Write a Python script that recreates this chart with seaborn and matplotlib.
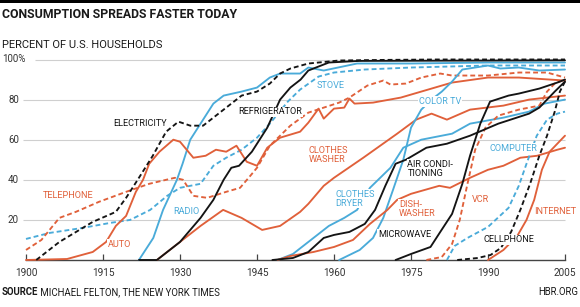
import matplotlib
matplotlib.use("Agg")
import matplotlib.pyplot as plt
from matplotlib.patches import Rectangle
import seaborn as sns

# percent of U.S. households
electricity_years = [1902, 1906.5, 1913, 1917.5, 1919.5, 1922, 1924.7, 1927.3, 1929.7, 1932, 1934.5, 1936.5,
                     1939, 1942, 1945, 1947.5, 1949.5, 1951.5, 1955, 1961, 1970, 1980, 1990, 2005]
electricity = [0, 9, 19, 24, 31, 41, 52, 64, 69, 67, 67, 71, 76, 82, 84, 88, 93, 95.5, 98, 99.5, 99.8, 100, 100, 100]

telephone_years = [1900, 1903, 1906.5, 1909.7, 1914.2, 1919.5, 1924, 1927.3, 1929, 1930.6, 1932.6, 1935.3, 1939,
                   1941.7, 1943.7, 1945, 1947.5, 1951.5, 1955, 1961, 1963, 1966.5, 1969.6, 1971, 1974, 1977,
                   1980.7, 1983, 1990, 1996, 2001.5, 2005]
telephone = [5, 10, 21, 24, 29, 34, 38, 40, 41, 40, 32, 31, 34, 36, 42, 46, 57, 67, 73.5, 78.5, 81, 87, 89.5,
             87.5, 88, 91, 93, 92, 92, 93.5, 93.5, 91]

radio_years = [1922, 1924.8, 1926.7, 1929.4, 1930.5, 1932, 1934.5, 1936.5, 1938.5, 1942, 1945, 1947.5, 1949.5,
               1953.4, 1955, 1958, 1964.5, 1975, 1990, 2005]
radio = [0, 11, 25, 40, 48, 60, 70, 78, 82, 84, 86, 91, 93, 93, 96, 94.5, 98, 98, 98.5, 98.5]

auto_years = [1900, 1908, 1913, 1915.6, 1917.5, 1919.5, 1921.4, 1922.8, 1924, 1926, 1928.7, 1930, 1932.6, 1935,
              1937, 1939, 1941, 1943, 1945, 1947, 1949.5, 1953.4, 1955, 1957, 1958, 1960, 1962, 1963, 1964,
              1967.6, 1973, 1979, 1983, 1990, 1996, 2005]
auto = [0, 0.5, 4, 9, 17, 22, 34, 40, 48, 54, 60, 59, 51, 52, 55, 54, 57, 49, 47, 56, 61, 64, 68.5, 75.5, 70.5,
        75.5, 76, 80.5, 78, 78.5, 81, 85.5, 88.5, 91, 91, 89.5]

refrigerator_years = [1922, 1925.5, 1930, 1934, 1936.5, 1938.5, 1940, 1941.5, 1944, 1947, 1949.5, 1951.5, 1953.5,
                      1955, 1959, 1965, 2005]
refrigerator = [0, 0, 9, 21, 30, 40, 46, 47, 54, 66, 80, 86, 90, 94.5, 98.5, 99.3, 99.6]

stove_years = [1900, 1904.6, 1911, 1916.4, 1920.3, 1924.2, 1927.5, 1930, 1934, 1936.5, 1939, 1942, 1945, 1947.5,
               1951, 1953.4, 1957, 1960, 1966, 1975, 1990, 2005]
stove = [10.5, 13.5, 16, 18.5, 20, 25, 32, 36, 38, 47, 51, 55, 61, 68, 79, 85, 91.5, 93.5, 95, 96, 97, 97]

washer_years = [1925.5, 1930, 1934, 1938.4, 1942, 1946, 1949.5, 1953.4, 1955, 1958, 1960, 1965.7, 1969, 1972.3,
                1976, 1979, 1982, 1986.5, 1993, 1998, 2005]
washer = [0, 9, 17, 25, 21, 15, 17, 24, 28, 37, 41, 51, 57, 63, 70, 73, 70, 75, 77, 80, 82]

dryer_years = [1949, 1952, 1955, 1959, 1962, 1964.5, 1967, 1971, 1973.5, 1977, 1981, 1983, 1986.5, 1993, 1998,
               2001, 2005]
dryer = [0, 3, 9, 17, 21, 25, 36, 46, 56, 60, 62, 63, 68, 71, 74, 78, 80]

colortv_years = [1961, 1965, 1967.6, 1969.6, 1971.5, 1973.5, 1975, 1977, 1979, 1981, 1983, 1985, 1990, 1992.4,
                 1996, 2000, 2005]
colortv = [0, 5, 11, 21, 35, 50, 66, 75, 80, 84, 89, 95, 97, 95.5, 96, 94.5, 95]

ac_years = [1948, 1952, 1955, 1958, 1960, 1963, 1966, 1968, 1970, 1972, 1974, 1978, 1982, 1986.5, 1992, 1998,
            2000, 2003, 2005]
ac = [0, 1, 4, 11, 12.5, 14, 18, 25, 37, 48, 50, 56, 58, 62, 68, 73, 76, 84, 89]

dishwasher_years = [1949, 1951.5, 1956, 1960, 1963.7, 1967, 1970.4, 1972.3, 1975, 1980.5, 1982.6, 1986.5, 1990,
                    1993, 1996.3, 1999.6, 2003.5, 2005]
dishwasher = [0, 2, 4, 6.5, 10, 18, 25, 30, 33, 37, 36, 41, 45, 47, 51, 52, 55, 56]

microwave_years = [1972, 1975, 1978.8, 1980.7, 1983, 1985, 1986.5, 1988.5, 1990.4, 1994, 1996, 2000, 2003.5, 2005]
microwave = [0, 3, 6.5, 14, 23, 38, 52, 68, 79, 82, 83, 85.5, 88.5, 90]

vcr_years = [1978, 1981, 1983, 1984.5, 1986, 1987.5, 1989.5, 1992, 1996, 2000, 2001.5, 2003, 2005]
vcr = [0, 1.5, 8, 20, 38, 55, 66, 72, 75, 77, 84, 88, 90]

computer_years = [1982, 1983.5, 1986, 1990, 1994, 1996, 1997.5, 1999.5, 2001.5, 2003.5, 2005]
computer = [0, 7, 11, 16.5, 26, 37, 48, 62, 70, 73, 74]

cellphone_years = [1984, 1988, 1990.5, 1992.5, 1994.5, 1996.3, 1998.2, 2000, 2001.5, 2003, 2004, 2005]
cellphone = [0, 1, 2.5, 6, 14, 25, 38, 52, 62, 74, 84, 89]

internet_years = [1990, 1993, 1995.7, 1997.5, 1999, 2000.5, 2002, 2003.5, 2005]
internet = [0, 5, 12, 20, 30, 45, 54, 58, 62]

x_ticks = [1900, 1915, 1930, 1945, 1960, 1975, 1990, 2005]
y_ticks = [20, 40, 60, 80, 100]

ORANGE = '#e0603a'
BLUE = '#4aabd9'
BLACK = '#141414'

# (years, values, colour, dashed)
series = [
    (stove_years, stove, BLUE, True),
    (radio_years, radio, BLUE, False),
    (telephone_years, telephone, ORANGE, True),
    (auto_years, auto, ORANGE, False),
    (washer_years, washer, ORANGE, False),
    (dryer_years, dryer, BLUE, False),
    (colortv_years, colortv, BLUE, False),
    (dishwasher_years, dishwasher, ORANGE, False),
    (vcr_years, vcr, ORANGE, True),
    (computer_years, computer, BLUE, True),
    (internet_years, internet, ORANGE, False),
    (ac_years, ac, BLACK, False),
    (microwave_years, microwave, BLACK, False),
    (refrigerator_years, refrigerator, BLACK, False),
    (electricity_years, electricity, BLACK, True),
    (cellphone_years, cellphone, BLACK, True),
]

# (text, year, percent, colour, horizontal alignment)
labels = [
    ('ELECTRICITY', 1922.2, 67.9, BLACK, 'center'),
    ('TELEPHONE', 1908.2, 32.1, ORANGE, 'center'),
    ('RADIO', 1931.2, 24.1, BLUE, 'center'),
    ('AUTO', 1918.3, 7.7, ORANGE, 'center'),
    ('REFRIGERATOR', 1947.6, 73.9, BLACK, 'center'),
    ('STOVE', 1959.3, 86.8, BLUE, 'center'),
    ('CLOTHES\nWASHER', 1955.0, 52.5, ORANGE, 'left'),
    ('COLOR TV', 1980.7, 78.9, BLUE, 'center'),
    ('AIR CONDI-\nTIONING', 1974.3, 45.5, BLACK, 'left'),
    ('COMPUTER', 1994.9, 55.7, BLUE, 'center'),
    ('CLOTHES\nDRYER', 1960.2, 30.6, BLUE, 'left'),
    ('DISH-\nWASHER', 1972.7, 25.4, ORANGE, 'left'),
    ('MICROWAVE', 1973.8, 12.9, BLACK, 'center'),
    ('VCR', 1988.6, 30.1, ORANGE, 'center'),
    ('CELLPHONE', 1994.1, 10.0, BLACK, 'center'),
    ('INTERNET', 2003.1, 24.4, ORANGE, 'center'),
]

sns.set_style('white')
plt.rcParams['font.family'] = ['Roboto', 'DejaVu Sans']

fig = plt.figure(figsize=(5.8, 3.07), dpi=100)
ax = fig.add_axes([26 / 580, 47 / 307, 539 / 580, 200.5 / 307])
ax.set_xlim(1900, 2005)
ax.set_ylim(0, 100)

# light grid lines, starting just right of the y labels
for y in y_ticks:
    start = 1901.75 if y == 100 else 1899.4
    ax.hlines(y, start, 2005, color='#cfcfcf', lw=0.8, clip_on=False, zorder=1)
    if y == 100:
        ax.text(1895.3, y, '100%', ha='left', va='center', fontsize=7, color='#333333', clip_on=False)
    else:
        ax.text(1898.6, y, str(y), ha='right', va='center', fontsize=7, color='#333333', clip_on=False)

for years, vals, col, dashed in series:
    sns.lineplot(x=years, y=vals, color=col, lw=1.35, ax=ax, zorder=3)
    line = ax.lines[-1]
    line.set_clip_on(False)
    if dashed:
        line.set_dashes([2.6, 1.6])

for txt, yr, pct, col, ha in labels:
    ax.text(yr, pct, txt, color=col, ha=ha, va='center', fontsize=6.6, linespacing=1.0, zorder=5,
            clip_on=False, bbox=dict(facecolor='white', edgecolor='none', pad=0.6))

for s in ['top', 'right', 'left']:
    ax.spines[s].set_visible(False)
ax.spines['bottom'].set_color('#444444')
ax.spines['bottom'].set_linewidth(1.0)
ax.set_yticks([])
ax.set_xticks(x_ticks)
ax.set_xticklabels([str(t) for t in x_ticks])
ax.tick_params(axis='x', direction='in', length=4, width=0.9, color='#444444', labelsize=7.2,
               labelcolor='#333333', pad=6, bottom=True)
ax.set_xlabel('')
ax.set_ylabel('')

# top black band
fig.patches.append(Rectangle((0, 1 - 3 / 307), 1, 3 / 307, transform=fig.transFigure,
                             facecolor='black', edgecolor='none'))
fig.text(2 / 580, 1 - 14.5 / 307, 'CONSUMPTION SPREADS FASTER TODAY', fontsize=8.8, weight='bold',
         color='#1a1a1a', va='center')
fig.text(2 / 580, 1 - 44.5 / 307, 'PERCENT OF U.S. HOUSEHOLDS', fontsize=8, color='#1a1a1a', va='center')
src = fig.text(2 / 580, 1 - 292 / 307, 'SOURCE', fontsize=6.9, weight='bold', color='#1a1a1a', va='center')
ax.annotate(' MICHAEL FELTON, THE NEW YORK TIMES', xy=(1, 0.5), xycoords=src, fontsize=6.9,
            color='#1a1a1a', va='center', ha='left', annotation_clip=False)
fig.text(578 / 580, 1 - 292 / 307, 'HBR.ORG', fontsize=6.9, color='#1a1a1a', va='center', ha='right')

fig.savefig('out.png', dpi=100)
plt.close(fig)
